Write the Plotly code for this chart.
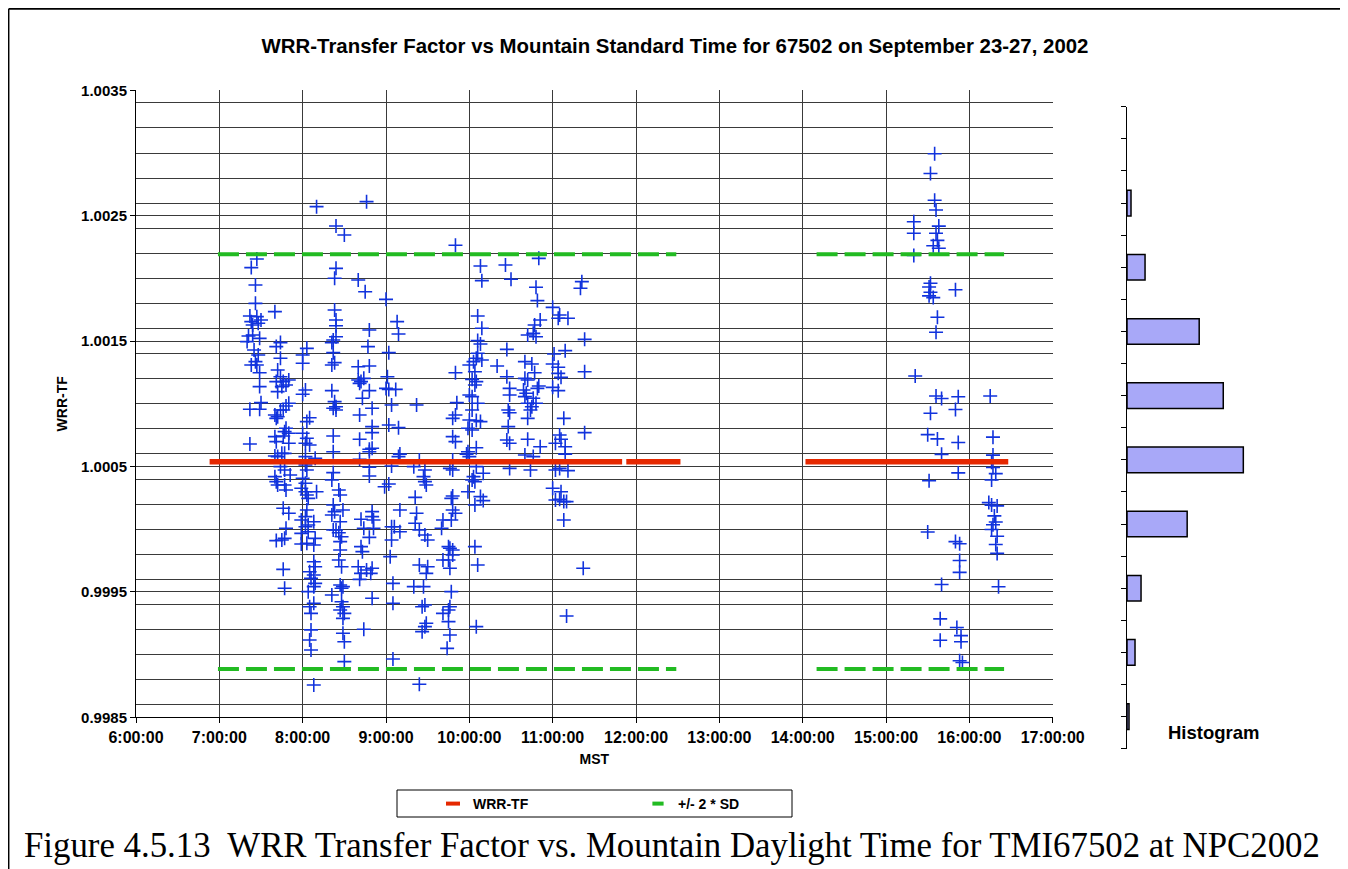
import plotly.graph_objects as go

DAY = "2002-09-23 "

# ---- WRR transfer factor data (time of day, WRR-TF) ----
am_points = [
    ("8:10", 1.002572), ("7:27", 1.002155), ("7:23", 1.002086), ("7:26", 1.001947), ("7:26", 1.001801),
    ("7:40", 1.001735), ("7:22", 1.001700), ("7:27", 1.001695), ("7:30", 1.001668), ("7:24", 1.001628),
    ("7:28", 1.001642), ("7:23", 1.001655), ("7:21", 1.001541), ("7:24", 1.001549), ("7:29", 1.001522),
    ("7:20", 1.001496), ("7:44", 1.001488), ("7:41", 1.001456), ("8:03", 1.001442), ("8:00", 1.001389),
    ("8:00", 1.001323), ("7:25", 1.001429), ("7:28", 1.001389), ("7:23", 1.001309), ("7:27", 1.001309),
    ("7:26", 1.001336), ("7:29", 1.001248), ("7:44", 1.001363), ("7:42", 1.001270), ("7:44", 1.001216),
    ("7:41", 1.001177), ("7:46", 1.001177), ("7:50", 1.001190), ("7:45", 1.001137), ("7:48", 1.001150),
    ("7:42", 1.001097), ("8:02", 1.001110), ("8:00", 1.001076), ("7:29", 1.001137), ("7:30", 1.001009),
    ("7:22", 1.000956), ("7:29", 1.000956), ("7:50", 1.001004), ("7:48", 1.000983), ("7:40", 1.000911),
    ("7:42", 1.000897), ("7:44", 1.000951), ("7:46", 1.000951), ("7:41", 1.000884), ("8:05", 1.000889),
    ("8:03", 1.000858), ("7:48", 1.000805), ("7:47", 1.000778), ("7:50", 1.000765), ("7:46", 1.000743),
    ("7:40", 1.000738), ("7:41", 1.000698), ("7:50", 1.000685), ("8:00", 1.000765), ("8:02", 1.000685),
    ("8:05", 1.000672), ("8:03", 1.000725), ("7:22", 1.000679), ("7:45", 1.000605), ("7:47", 1.000605),
    ("7:42", 1.000579), ("7:40", 1.000584), ("8:02", 1.000579), ("8:09", 1.000565), ("7:44", 1.000499),
    ("7:47", 1.000472), ("7:51", 1.000432), ("7:40", 1.000419), ("7:41", 1.000379), ("7:42", 1.000353),
    ("7:47", 1.000353), ("7:48", 1.000313), ("8:02", 1.000512), ("8:03", 1.000472), ("8:00", 1.000406),
    ("8:02", 1.000366), ("7:59", 1.000326), ("8:10", 1.000299), ("8:02", 1.000299), ("8:03", 1.000273),
    ("8:04", 1.000246), ("7:46", 1.000167), ("7:50", 1.000127), ("8:03", 1.000153), ("8:02", 1.000100),
    ("7:59", 1.000073), ("8:08", 1.000060), ("8:04", 1.000034), ("8:02", 1.000020), ("7:48", 1.000007),
    ("7:47", 0.999927), ("7:41", 0.999909), ("7:45", 0.999914), ("7:59", 0.999967), ("8:04", 0.999980),
    ("8:09", 0.999927), ("8:03", 0.999887), ("8:08", 0.999874), ("7:59", 0.999882), ("8:08", 0.999741),
    ("8:09", 0.999701), ("8:05", 0.999661), ("8:08", 0.999635), ("8:06", 0.999608), ("8:09", 0.999568),
    ("8:08", 0.999542), ("8:04", 0.999502), ("7:46", 0.999680), ("7:47", 0.999529), ("8:08", 0.999409),
    ("8:05", 0.999382), ("8:06", 0.999329), ("8:06", 0.999197), ("8:05", 0.999116), ("8:06", 0.999037),
    ("8:08", 0.998758),
    ("8:46", 1.002612), ("8:24", 1.002418), ("8:30", 1.002346), ("8:24", 1.002080), ("8:23", 1.002001),
    ("8:40", 1.001987), ("8:45", 1.001894), ("9:00", 1.001833), ("8:23", 1.001748), ("8:24", 1.001668),
    ("8:24", 1.001623), ("8:48", 1.001589), ("9:08", 1.001655), ("9:09", 1.001557), ("8:24", 1.001535),
    ("8:22", 1.001509), ("8:21", 1.001488), ("8:47", 1.001456), ("9:02", 1.001408), ("8:22", 1.001408),
    ("8:23", 1.001328), ("8:21", 1.001309), ("8:40", 1.001296), ("8:48", 1.001301), ("8:40", 1.001190),
    ("8:42", 1.001177), ("8:44", 1.001203), ("8:41", 1.001163), ("9:01", 1.001216), ("9:02", 1.001115),
    ("9:07", 1.001115), ("9:00", 1.001123), ("8:48", 1.001105), ("8:21", 1.001105), ("8:43", 1.001044),
    ("8:50", 1.000964), ("8:23", 1.001017), ("8:24", 1.000977), ("8:22", 1.000964), ("8:24", 1.000951),
    ("9:04", 1.000991), ("9:22", 1.000991), ("8:41", 1.000911), ("9:02", 1.000831), ("9:09", 1.000810),
    ("8:50", 1.000818), ("8:50", 1.000770), ("8:22", 1.000743), ("8:41", 1.000717), ("8:48", 1.000637),
    ("8:48", 1.000618), ("8:50", 1.000645), ("8:22", 1.000618), ("9:10", 1.000599), ("9:09", 1.000579),
    ("9:24", 1.000552), ("9:04", 1.000504), ("8:41", 1.000557), ("9:20", 1.000499), ("9:28", 1.000472),
    ("9:27", 1.000419), ("9:28", 1.000379), ("9:29", 1.000353), ("8:22", 1.000451), ("8:21", 1.000392),
    ("8:48", 1.000494), ("8:48", 1.000424), ("9:02", 1.000361), ("8:59", 1.000339), ("8:26", 1.000313),
    ("8:27", 1.000273), ("9:21", 1.000254), ("9:10", 1.000153), ("9:22", 1.000127), ("9:21", 1.000047),
    ("8:22", 1.000193), ("8:23", 1.000140), ("8:21", 1.000113), ("8:29", 1.000153), ("8:50", 1.000140),
    ("8:50", 1.000100), ("8:51", 1.000073), ("8:42", 1.000079), ("8:44", 1.000007), ("8:51", 1.000007),
    ("8:48", 0.999935), ("8:27", 1.000060), ("8:24", 0.999994), ("8:22", 0.999994), ("8:26", 0.999972),
    ("8:28", 0.999940), ("8:27", 0.999901), ("9:04", 1.000020), ("9:06", 1.000020), ("9:10", 0.999980),
    ("9:04", 0.999914), ("9:24", 0.999994), ("9:28", 0.999954), ("9:30", 0.999914), ("9:41", 1.000073),
    ("9:40", 1.000007), ("8:42", 0.999861), ("8:43", 0.999821), ("8:27", 0.999834), ("8:26", 0.999754),
    ("8:28", 0.999701), ("9:03", 0.999781), ("8:40", 0.999701), ("8:42", 0.999648), ("8:46", 0.999675),
    ("8:50", 0.999688), ("8:49", 0.999648), ("8:41", 0.999600), ("9:24", 0.999715), ("9:30", 0.999701),
    ("9:29", 0.999648), ("9:41", 0.999754), ("9:05", 0.999568), ("8:27", 0.999555), ("8:28", 0.999529),
    ("8:29", 0.999542), ("9:20", 0.999542), ("9:27", 0.999542), ("8:21", 0.999475), ("8:50", 0.999449),
    ("8:28", 0.999422), ("8:29", 0.999382), ("8:27", 0.999356), ("8:30", 0.999329), ("8:29", 0.999289),
    ("9:05", 0.999409), ("9:26", 0.999382), ("9:28", 0.999396), ("9:29", 0.999250), ("9:28", 0.999223),
    ("9:26", 0.999183), ("9:41", 0.999329), ("8:44", 0.999202), ("8:29", 0.999170), ("8:30", 0.999103),
    ("8:30", 0.998944), ("9:05", 0.998965), ("9:24", 0.998763),
    ("9:50", 1.002264), ("10:50", 1.002160), ("10:08", 1.002099), ("10:26", 1.002107), ("10:09", 1.001982),
    ("10:30", 1.001993), ("10:48", 1.001929), ("10:49", 1.001823), ("11:21", 1.001974), ("11:20", 1.001921),
    ("10:06", 1.001700), ("10:09", 1.001602), ("11:00", 1.001769), ("11:05", 1.001708), ("11:11", 1.001682),
    ("11:04", 1.001682), ("10:51", 1.001668), ("10:47", 1.001628), ("10:42", 1.001549), ("10:46", 1.001562),
    ("10:48", 1.001535), ("11:23", 1.001514), ("10:06", 1.001504), ("10:08", 1.001477), ("10:27", 1.001434),
    ("10:06", 1.001403), ("10:05", 1.001363), ("10:09", 1.001349), ("10:03", 1.001336), ("11:01", 1.001397),
    ("11:09", 1.001424), ("9:50", 1.001248), ("10:00", 1.001309), ("10:04", 1.001256), ("10:20", 1.001301),
    ("10:40", 1.001336), ("10:45", 1.001317), ("10:47", 1.001248), ("11:00", 1.001317), ("11:04", 1.001291),
    ("11:04", 1.001243), ("11:06", 1.001211), ("11:23", 1.001256), ("10:02", 1.001195), ("10:05", 1.001177),
    ("10:04", 1.001150), ("10:27", 1.001216), ("10:29", 1.001123), ("10:29", 1.001070), ("10:40", 1.001203),
    ("10:42", 1.001190), ("10:39", 1.001110), ("10:41", 1.001084), ("10:50", 1.001142), ("10:49", 1.001123),
    ("11:00", 1.001131), ("11:04", 1.001105), ("10:00", 1.001070), ("10:02", 1.001057), ("9:51", 1.001009),
    ("10:06", 1.001004), ("10:02", 1.000951), ("10:40", 1.001057), ("10:46", 1.001044), ("10:42", 1.001004),
    ("10:48", 1.001004), ("10:45", 1.000977), ("10:44", 1.000951), ("10:42", 1.000884), ("10:28", 1.000951),
    ("10:29", 1.000929), ("9:50", 1.000911), ("9:48", 1.000884), ("10:00", 1.000871), ("10:05", 1.000866),
    ("10:08", 1.000858), ("9:59", 1.000805), ("10:02", 1.000791), ("11:08", 1.000884), ("10:28", 1.000818),
    ("11:23", 1.000770), ("9:48", 1.000738), ("9:50", 1.000698), ("10:27", 1.000711), ("10:29", 1.000685),
    ("10:42", 1.000717), ("10:51", 1.000658), ("11:05", 1.000751), ("11:06", 1.000717), ("11:02", 1.000685),
    ("11:09", 1.000658), ("11:09", 1.000599), ("10:05", 1.000650), ("9:59", 1.000618), ("10:00", 1.000579),
    ("9:58", 1.000599), ("10:40", 1.000592), ("10:46", 1.000579), ("9:48", 1.000552), ("9:46", 1.000485),
    ("9:48", 1.000472), ("10:05", 1.000499), ("10:10", 1.000446), ("10:29", 1.000485), ("10:44", 1.000472),
    ("11:02", 1.000472), ("11:05", 1.000485), ("11:11", 1.000467), ("10:03", 1.000419), ("10:02", 1.000392),
    ("10:04", 1.000379), ("9:59", 1.000299), ("11:00", 1.000326), ("11:06", 1.000299), ("9:48", 1.000265),
    ("9:47", 1.000246), ("10:08", 1.000260), ("10:10", 1.000228), ("10:04", 1.000193), ("11:02", 1.000233),
    ("11:05", 1.000238), ("11:08", 1.000220), ("11:10", 1.000220), ("9:48", 1.000153), ("9:50", 1.000127),
    ("9:47", 1.000073), ("11:08", 1.000073), ("10:04", 0.999861), ("10:06", 0.999715), ("9:45", 0.999861),
    ("9:46", 0.999848), ("9:48", 0.999834), ("9:48", 0.999794), ("9:45", 0.999754), ("9:46", 0.999688),
    ("11:22", 0.999688), ("9:47", 0.999502), ("9:46", 0.999382), ("9:45", 0.999356), ("9:45", 0.999263),
    ("9:46", 0.999156), ("9:44", 0.999050), ("11:10", 0.999308), ("10:05", 0.999223),
]

pm_points = [
    ("15:35", 1.002994), ("15:32", 1.002837), ("15:35", 1.002623), ("15:36", 1.002546), ("15:20", 1.002452),
    ("15:20", 1.002360), ("15:38", 1.002417), ("15:36", 1.002360), ("15:37", 1.002303), ("15:34", 1.002260),
    ("15:38", 1.002241), ("15:20", 1.002183), ("15:32", 1.001961), ("15:31", 1.001932), ("15:32", 1.001890),
    ("15:31", 1.001861), ("15:34", 1.001847), ("15:50", 1.001910), ("15:37", 1.001690), ("15:36", 1.001570),
    ("15:21", 1.001222), ("15:36", 1.001062), ("15:40", 1.001042), ("15:52", 1.001056), ("16:15", 1.001062),
    ("15:32", 1.000925), ("15:50", 1.000954), ("15:30", 1.000754), ("15:37", 1.000720), ("15:52", 1.000691),
    ("16:17", 1.000734), ("15:40", 1.000597), ("16:17", 1.000591), ("16:16", 1.000534), ("16:17", 1.000492),
    ("16:19", 1.000443), ("16:16", 1.000392), ("15:31", 1.000386), ("15:52", 1.000449), ("16:14", 1.000212),
    ("16:16", 1.000192), ("16:20", 1.000186), ("16:18", 1.000106), ("16:19", 1.000058), ("16:17", 1.000035),
    ("16:16", 0.999998), ("16:20", 0.999944), ("16:19", 0.999878), ("16:20", 0.999807), ("15:30", 0.999978),
    ("15:50", 0.999901), ("15:53", 0.999884), ("15:53", 0.999750), ("15:53", 0.999656), ("15:40", 0.999559),
    ("16:21", 0.999541), ("15:39", 0.999285), ("15:51", 0.999216), ("15:54", 0.999151), ("15:54", 0.999102),
    ("15:39", 0.999114), ("15:53", 0.998951), ("15:55", 0.998937),
]

am_time = [t for t, _ in am_points]
am_value = [v for _, v in am_points]
pm_time = [t for t, _ in pm_points]
pm_value = [v for _, v in pm_points]

# mean WRR-TF and +/- 2 SD band
wrr_tf_mean = 1.000538
sd2_upper = 1.002192
sd2_lower = 0.998885
wrr_segments = [("6:53", "11:50"), ("11:53", "12:32"), ("14:02", "16:28")]
sd_segments = [("6:59", "12:29"), ("14:10", "16:25")]

# histogram (top bin to bottom bin)
hist_counts = [0, 2, 9, 36, 48, 58, 30, 7, 4, 1]

x_ticks = ["6:00", "7:00", "8:00", "9:00", "10:00", "11:00", "12:00",
           "13:00", "14:00", "15:00", "16:00", "17:00"]


def ts(t):
    h, m = t.split(":")
    return f"{DAY}{int(h):02d}:{m}:00"


# page body has an 8px margin: the figure is sized so that it fills the window
OX, OY = 8, 8
W, H = 1340, 861
FONT = "Arial, Liberation Sans, sans-serif"
BLUE = "#1133DD"
RED = "#E52800"
GREEN = "#22BB22"


def px_x(p):
    return (p - OX) / W


def px_y(p):
    return 1 - (p - OY) / H


fig = go.Figure()

fig.add_trace(go.Scatter(
    x=[ts(t) for t in am_time + pm_time], y=am_value + pm_value,
    mode="markers", showlegend=False, name="WRR-TF data",
    marker=dict(symbol="cross-thin", size=10, color=BLUE, line=dict(color=BLUE, width=1.6)),
    xaxis="x", yaxis="y"))

sx, sy = [], []
for a, b in wrr_segments:
    sx += [ts(a), ts(b), None]
    sy += [wrr_tf_mean, wrr_tf_mean, None]
fig.add_trace(go.Scatter(x=sx, y=sy, mode="lines", showlegend=False,
                         line=dict(color=RED, width=5.5), xaxis="x", yaxis="y"))

gx, gy = [], []
for lvl in (sd2_upper, sd2_lower):
    for a, b in sd_segments:
        gx += [ts(a), ts(b), None]
        gy += [lvl, lvl, None]
fig.add_trace(go.Scatter(x=gx, y=gy, mode="lines", showlegend=False,
                         line=dict(color=GREEN, width=4, dash="21px,7px"), xaxis="x", yaxis="y"))

# legend entries
fig.add_trace(go.Scatter(x=[None], y=[None], mode="markers", name="<b>WRR-TF</b>",
                         marker=dict(symbol="line-ew", size=10, color=RED, line=dict(color=RED, width=4)),
                         xaxis="x", yaxis="y"))
fig.add_trace(go.Scatter(x=[None], y=[None], mode="markers", name="<b>+/- 2 * SD</b>",
                         marker=dict(symbol="line-ew", size=8, color=GREEN, line=dict(color=GREEN, width=4)),
                         xaxis="x", yaxis="y"))

# histogram
n = len(hist_counts)
fig.add_trace(go.Bar(
    x=hist_counts, y=[n - 1 - i for i in range(n)], orientation="h", width=0.4,
    marker=dict(color="#A8A8F8",
                line=dict(color="black", width=[1.5 if c > 0 else 0 for c in hist_counts])),
    showlegend=False, xaxis="x2", yaxis="y2"))

grid_c = "#3a3a3a"
fig.update_layout(
    template="none",
    width=W, height=H, autosize=False,
    margin=dict(l=0, r=0, t=0, b=0, pad=0),
    paper_bgcolor="white", plot_bgcolor="white",
    font=dict(family=FONT, color="black"),
    title=dict(text="<b>WRR-Transfer Factor vs Mountain Standard Time for 67502 on September 23-27, 2002</b>",
               x=px_x(675), xanchor="center", y=px_y(46), yanchor="middle",
               font=dict(size=20.4, family=FONT, color="black")),
    xaxis=dict(
        domain=[px_x(136), px_x(1052.7)], type="date",
        range=[ts("6:00"), ts("17:00")],
        tickmode="array", tickvals=[ts(t) for t in x_ticks],
        ticktext=[f"<b>{t}:00</b>" for t in x_ticks],
        tickfont=dict(size=16, family=FONT),
        showgrid=True, gridcolor=grid_c, gridwidth=1,
        showline=True, linecolor="black", linewidth=1,
        ticks="outside", ticklen=5, tickcolor="black",
        zeroline=False, anchor="y", automargin=False,
        title=dict(text="<b>MST</b>", font=dict(size=14, family=FONT), standoff=9),
    ),
    yaxis=dict(
        domain=[px_y(717.3), px_y(90.3)],
        range=[0.9985, 1.0035], tick0=0.9985, dtick=0.001,
        tickformat=".4f", tickprefix="<b>", ticksuffix="</b>",
        tickfont=dict(size=15, family=FONT),
        showgrid=True, gridcolor=grid_c, gridwidth=1,
        minor=dict(dtick=0.0002, showgrid=True, gridcolor=grid_c, gridwidth=1, ticks=""),
        showline=True, linecolor="black", linewidth=1,
        ticks="outside", ticklen=5, tickcolor="black",
        zeroline=False, anchor="x", automargin=False,
        title=dict(text="<b>WRR-TF</b>", font=dict(size=14, family=FONT), standoff=10),
    ),
    xaxis2=dict(domain=[px_x(1127), px_x(1345)], range=[0, 108.7], visible=False, anchor="y2",
                automargin=False),
    yaxis2=dict(domain=[px_y(748.7), px_y(106.8)], range=[-0.5, n - 0.5],
                tickmode="array", tickvals=[k * 0.5 - 0.5 for k in range(2 * n + 1)],
                showticklabels=False, ticks="outside", ticklen=5, tickcolor="black",
                showline=True, linecolor="black", linewidth=1, showgrid=False, zeroline=False,
                anchor="x2", automargin=False),
    legend=dict(orientation="h", x=px_x(433), xanchor="left", y=px_y(788), yanchor="top",
                bgcolor="rgba(0,0,0,0)", borderwidth=0, entrywidth=160,
                font=dict(size=14, family=FONT, color="black"), itemclick=False),
    shapes=[
        dict(type="rect", xref="paper", yref="paper", x0=px_x(397), x1=px_x(792),
             y0=px_y(817), y1=px_y(790), line=dict(color="black", width=1)),
        dict(type="line", xref="paper", yref="paper", x0=px_x(8.7), x1=px_x(8.7), y0=-0.05, y1=px_y(8.7),
             line=dict(color="black", width=1.5)),
        dict(type="line", xref="paper", yref="paper", x0=px_x(8.7), x1=px_x(1345.5), y0=px_y(8.7), y1=px_y(8.7),
             line=dict(color="black", width=2)),
        dict(type="line", xref="paper", yref="paper", x0=px_x(1345.5), x1=px_x(1345.5), y0=-0.05, y1=px_y(8.7),
             line=dict(color="black", width=4)),
    ],
    annotations=[
        dict(text="<b>Histogram</b>", xref="paper", yref="paper", x=px_x(1214), y=px_y(732),
             xanchor="center", yanchor="middle", showarrow=False, font=dict(size=18.5, family=FONT)),
        dict(text="Figure 4.5.13  WRR Transfer Factor vs. Mountain Daylight Time for TMI67502 at NPC2002",
             xref="paper", yref="paper", x=px_x(22), y=px_y(845), xanchor="left", yanchor="middle",
             showarrow=False,
             font=dict(size=34.8, family="Times New Roman, Liberation Serif, serif", color="black")),
    ],
)

fig.write_html("out.html")
